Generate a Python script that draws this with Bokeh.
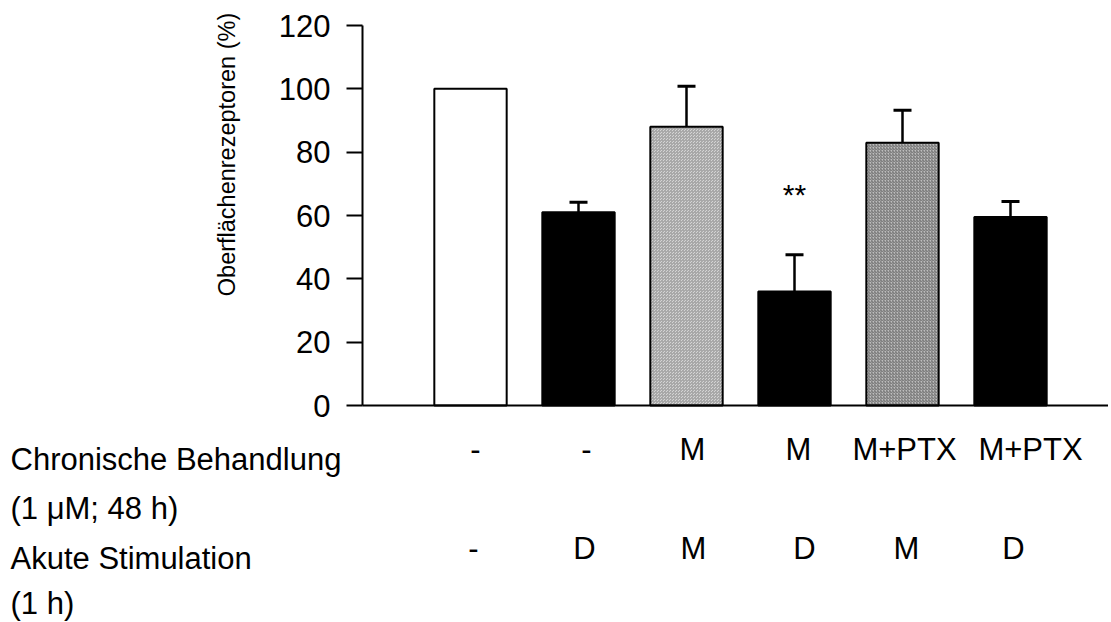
from math import pi
from bokeh.plotting import figure
from bokeh.models import ColumnDataSource, Whisker, TeeHead, Label, LabelSet, FixedTicker, Range1d
from bokeh.core.properties import value
from bokeh.embed import file_html
from bokeh.resources import INLINE

# ---- data ----
positions = [1, 2, 3, 4, 5, 6]
values = [100, 61, 88, 36, 83, 59.5]
errors = [0, 3.2, 12.8, 11.6, 10.2, 4.9]
chronic = ["-", "-", "M", "M", "M+PTX", "M+PTX"]
acute = ["-", "D", "M", "D", "M", "D"]
yticks = [0, 20, 40, 60, 80, 100, 120]
ylabel = "Oberflächenrezeptoren (%)"
row_titles = ["Chronische Behandlung", "(1 \u03bcM; 48 h)", "Akute Stimulation", "(1 h)"]
signif_text = "**"
signif_index = 3

# ---- styles / layout ----
fills = ["white", "black", "#d4d4d4", "black", "#bdbdbd", "black"]
hatches = ["blank", "blank", "criss_cross", "blank", "right_diagonal_line", "blank"]
hatch_colors = ["black", "black", "#a8a8a8", "black", "#6e6e6e", "black"]
nudge_row1 = [5, 8, 6, 4, 2, 20]
nudge_row3 = [3, 6, 7, 10, 4, 3]
FONT = "Liberation Sans"

W, H = 1108, 622
AX_X, AX_Y0, AX_Y120 = 362, 405, 25      # pixel positions of the axes
BAR1_X, STEP = 470, 108                  # pixel centre of first bar, spacing
ppu_y = (AX_Y0 - AX_Y120) / 120.0
x0 = 1 - BAR1_X / STEP
x1 = 1 + (W - BAR1_X) / STEP
y1 = 120 + AX_Y120 / ppu_y
y0 = -(H - AX_Y0) / ppu_y
x_axis_start = 1 - (BAR1_X - AX_X) / STEP

p = figure(width=W, height=H, output_backend="svg", toolbar_location=None,
           x_range=Range1d(x0, x1), y_range=Range1d(y0, y1), min_border=0)
p.outline_line_color = None
p.xgrid.grid_line_color = None
p.ygrid.grid_line_color = None
p.background_fill_color = "white"
p.border_fill_color = "white"

src = ColumnDataSource(dict(x=positions, top=values, fill=fills, hatch=hatches, hc=hatch_colors))
p.vbar(x="x", top="top", bottom=0, width=0.67, fill_color="fill", line_color="black",
       line_width=2, hatch_pattern="hatch", hatch_color="hc", hatch_scale=3, hatch_weight=1,
       source=src)

ex = [x for x, e in zip(positions, errors) if e > 0]
et = [v for v, e in zip(values, errors) if e > 0]
eu = [v + e for v, e in zip(values, errors) if e > 0]
esrc = ColumnDataSource(dict(x=ex, lower=et, upper=eu))
p.add_layout(Whisker(base="x", lower="lower", upper="upper", source=esrc, dimension="height",
                     line_width=2.5, line_color="black", lower_head=None,
                     upper_head=TeeHead(size=18, line_width=3, line_color="black")))

p.add_layout(Label(x=positions[signif_index], y=values[signif_index] + errors[signif_index],
                   text=signif_text, y_offset=60, text_align="center", text_baseline="alphabetic",
                   text_font=FONT, text_font_size="30px", text_color="black"))

# axes (drawn at fixed data locations so the frame can span the whole canvas)
p.yaxis.fixed_location = x_axis_start
p.yaxis.bounds = (0, 120)
p.yaxis.ticker = FixedTicker(ticks=yticks)
p.yaxis.major_tick_out = 16
p.yaxis.major_tick_in = 0
p.yaxis.major_tick_line_width = 2
p.yaxis.major_tick_line_color = "black"
p.yaxis.minor_tick_line_color = None
p.yaxis.axis_line_width = 2
p.yaxis.axis_line_color = "black"
p.yaxis.major_label_text_font = FONT
p.yaxis.major_label_text_font_size = "31px"
p.yaxis.major_label_text_color = "black"
p.yaxis.major_label_standoff = 16

p.xaxis.fixed_location = 0
p.xaxis.bounds = (x_axis_start, x1)
p.xaxis.ticker = FixedTicker(ticks=[])
p.xaxis.major_tick_line_color = None
p.xaxis.minor_tick_line_color = None
p.xaxis.major_label_text_font_size = "0px"
p.xaxis.axis_line_width = 2
p.xaxis.axis_line_color = "black"

# y label
p.add_layout(Label(x=x_axis_start, y=120, x_offset=-136, y_offset=-129, angle=pi / 2, text=ylabel,
                   text_align="center", text_baseline="alphabetic",
                   text_font=FONT, text_font_size="23.5px", text_color="black"))

# row titles and condition labels
row_off = [-54, -103, -153, -198]
for t, off in zip(row_titles, row_off):
    p.add_layout(Label(x=x_axis_start, y=0, x_offset=-352, y_offset=off, text=t, text_align="left",
                       text_baseline="alphabetic", text_font=FONT, text_font_size="31px",
                       text_color="black"))

for texts, nudges, off in [(chronic, nudge_row1, row_off[0]), (acute, nudge_row3, row_off[2])]:
    lsrc = ColumnDataSource(dict(x=positions, y=[0] * len(positions), t=texts, dx=nudges))
    p.add_layout(LabelSet(x="x", y="y", text="t", x_offset="dx", y_offset=off, source=lsrc,
                          text_align="center", text_baseline="alphabetic", text_font=value(FONT),
                          text_font_size=value("31px"), text_color="black"))

open("out.html", "w").write(file_html(p, INLINE))
